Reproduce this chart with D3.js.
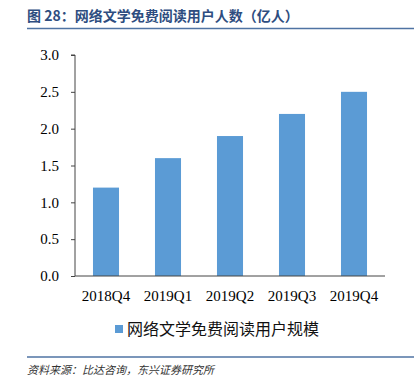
<!DOCTYPE html>
<html>
<head>
<meta charset="utf-8">
<script src="https://cdn.jsdelivr.net/npm/d3@7"></script>
<style>
body{margin:0;background:#fff;}
</style>
</head>
<body>
<div id="chart"></div>
<script>
// data
const categories = ['2018Q4','2019Q1','2019Q2','2019Q3','2019Q4'];
const users = [1.2, 1.6, 1.9, 2.2, 2.5];
const yTicks = [0, 0.5, 1.0, 1.5, 2.0, 2.5, 3.0];
const seriesName = '网络文学免费阅读用户规模';
const titleText = '图 28：网络文学免费阅读用户人数（亿人）';
const sourceText = '资料来源：比达咨询，东兴证券研究所';

const W = 414, H = 385;
const svg = d3.select('#chart').append('svg')
  .attr('width', W).attr('height', H);

// title
svg.append('text')
  .attr('x', 27).attr('y', 21)
  .style('font-family', '"Noto Sans CJK SC", sans-serif')
  .style('font-size', '14px')
  .style('font-weight', 'bold')
  .attr('fill', '#2e4d80')
  .text(titleText);
svg.append('line')
  .attr('x1', 27).attr('x2', 414).attr('y1', 28.5).attr('y2', 28.5)
  .attr('stroke', '#4f73a3').attr('stroke-width', 1.5);

// scales
const x = d3.scaleBand().domain(categories).range([75, 385]).paddingInner(0.58).paddingOuter(0.29);
const y = d3.scaleLinear().domain([0, 3]).range([276, 55]);

// bars
svg.selectAll('rect.bar')
  .data(users)
  .join('rect')
  .attr('class', 'bar')
  .attr('x', (d, i) => x(categories[i]))
  .attr('y', d => y(d))
  .attr('width', x.bandwidth())
  .attr('height', d => y(0) - y(d))
  .attr('fill', '#5b9bd5');

// y axis
const yAxis = svg.append('g')
  .attr('transform', 'translate(75,0)')
  .call(d3.axisLeft(y).tickValues(yTicks).tickFormat(d3.format('.1f')).tickSize(4).tickPadding(12));
yAxis.select('.domain').attr('stroke', '#444').attr('d', `M-4,${y(3)}H0V${y(0)}`);
yAxis.selectAll('.tick line').attr('stroke', '#444');
yAxis.selectAll('.tick text')
  .style('font-family', '"Liberation Serif", serif')
  .style('font-size', '15px')
  .attr('fill', '#000');

// x axis
const xAxis = svg.append('g')
  .attr('transform', `translate(0,${y(0)})`)
  .call(d3.axisBottom(x).tickSize(0).tickPadding(14));
xAxis.select('.domain').attr('stroke', '#444').attr('d', `M75,0H385`);
xAxis.selectAll('.tick text')
  .style('font-family', '"Liberation Serif", serif')
  .style('font-size', '15px')
  .attr('fill', '#000');

// legend
svg.append('rect')
  .attr('x', 115).attr('y', 325).attr('width', 8).attr('height', 8)
  .attr('fill', '#5b9bd5');
svg.append('text')
  .attr('x', 127).attr('y', 335)
  .style('font-family', '"Noto Sans CJK SC", sans-serif')
  .style('font-size', '16px')
  .attr('fill', '#111')
  .text(seriesName);

// bottom rule and source
svg.append('line')
  .attr('x1', 27).attr('x2', 414).attr('y1', 357).attr('y2', 357)
  .attr('stroke', '#4f73a3').attr('stroke-width', 1.5);
svg.append('text')
  .attr('x', 27).attr('y', 374)
  .style('font-family', '"Noto Sans CJK SC", sans-serif')
  .style('font-size', '11px')
  .style('font-style', 'italic')
  .attr('fill', '#333')
  .text(sourceText);
</script>
</body>
</html>
